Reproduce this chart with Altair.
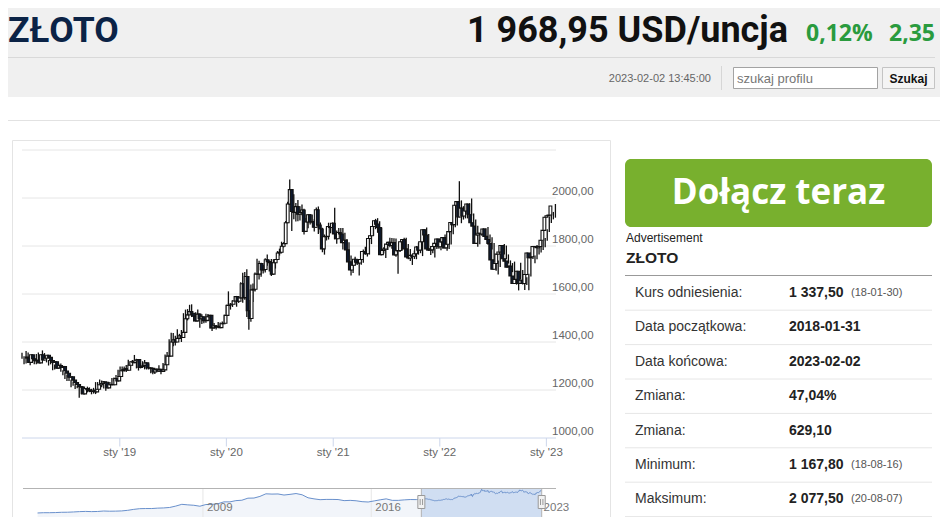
import altair as alt
import pandas as pd

W, H = 932, 509

# ---------------- weekly candles (2018-01-31 .. 2023-02-02) ----------------
close = [
    1333, 1315, 1347, 1330, 1322, 1324, 1313, 1347, 1325, 1332, 1345, 1336, 1323, 1315, 1318, 1291,
    1302, 1294, 1298, 1279, 1270, 1253, 1255, 1241, 1231, 1223, 1214, 1212, 1184, 1206, 1201, 1196,
    1194, 1199, 1192, 1203, 1222, 1227, 1234, 1232, 1209, 1222, 1223, 1222, 1248, 1238, 1256, 1280,
    1285, 1289, 1282, 1303, 1318, 1314, 1322, 1327, 1294, 1298, 1302, 1313, 1292, 1292, 1290, 1275,
    1286, 1279, 1286, 1277, 1284, 1305, 1341, 1341, 1400, 1409, 1400, 1415, 1426, 1419, 1440, 1497,
    1513, 1527, 1520, 1507, 1488, 1516, 1497, 1505, 1489, 1490, 1505, 1511, 1459, 1468, 1462, 1465,
    1460, 1476, 1478, 1511,
    1552, 1557, 1557, 1571, 1589, 1570, 1584, 1643, 1585, 1673, 1530, 1498, 1617, 1620, 1683, 1683,
    1727, 1700, 1702, 1743, 1735, 1730, 1683, 1730, 1744, 1771, 1774, 1799, 1810, 1897, 1975, 2035,
    1944, 1940, 1964, 1933, 1940, 1950, 1861, 1900, 1930, 1900, 1902, 1878, 1951, 1887, 1871, 1788,
    1839, 1840, 1881, 1877,
    1895, 1850, 1830, 1856, 1850, 1814, 1824, 1784, 1734, 1700, 1720, 1745, 1733, 1729, 1744, 1777,
    1777, 1768, 1831, 1843, 1881, 1905, 1891, 1877, 1764, 1781, 1787, 1808, 1815, 1802, 1814, 1763,
    1780, 1781, 1818, 1827, 1788, 1754, 1750, 1761, 1757, 1768, 1796, 1783, 1818, 1868, 1846, 1788,
    1783, 1784, 1798, 1811, 1829,
    1797, 1817, 1835, 1792, 1807, 1860, 1898, 1889, 1970, 1985, 1921, 1958, 1925, 1946, 1975, 1932,
    1897, 1883, 1811, 1846, 1853, 1850, 1871, 1840, 1827, 1811, 1742, 1703, 1727, 1766, 1775, 1802,
    1747, 1737, 1712, 1716, 1675, 1644, 1661, 1695, 1644, 1657, 1644, 1681, 1771, 1751, 1755, 1798,
    1797, 1793, 1798, 1824,
    1865, 1920, 1926, 1929, 1966.6,
]
high = [
    1355, 1341, 1362, 1356, 1336, 1341, 1331, 1350, 1356, 1347, 1365, 1354, 1337, 1325, 1327, 1320,
    1306, 1308, 1309, 1310, 1282, 1274, 1265, 1262, 1243, 1235, 1227, 1219, 1213, 1214, 1215, 1206,
    1214, 1211, 1205, 1209, 1233, 1233, 1244, 1240, 1237, 1227, 1229, 1233, 1250, 1252, 1263, 1284,
    1298, 1298, 1298, 1304, 1326, 1320, 1325, 1346, 1330, 1300, 1311, 1320, 1325, 1301, 1310, 1295,
    1288, 1290, 1290, 1303, 1287, 1312, 1348, 1358, 1411, 1439, 1437, 1426, 1453, 1434, 1450, 1520,
    1535, 1537, 1555, 1557, 1510, 1524, 1535, 1519, 1516, 1500, 1518, 1517, 1512, 1475, 1479, 1470,
    1483, 1481, 1485, 1514,
    1556, 1611, 1562, 1574, 1591, 1592, 1585, 1649, 1689, 1692, 1703, 1575, 1640, 1644, 1690, 1747,
    1739, 1730, 1722, 1749, 1765, 1740, 1746, 1745, 1745, 1779, 1789, 1818, 1816, 1904, 1984, 2077,
    2037, 2016, 1979, 1992, 1966, 1973, 1955, 1917, 1932, 1933, 1931, 1911, 1960, 1965, 1898, 1876,
    1848, 1875, 1897, 1886,
    1898, 1959, 1865, 1875, 1875, 1875, 1855, 1829, 1816, 1760, 1740, 1755, 1745, 1734, 1758, 1785,
    1797, 1790, 1843, 1845, 1890, 1913, 1916, 1903, 1877, 1795, 1795, 1818, 1834, 1833, 1832, 1831,
    1782, 1795, 1823, 1834, 1834, 1808, 1787, 1765, 1781, 1800, 1814, 1810, 1818, 1870, 1877, 1850,
    1800, 1793, 1815, 1815, 1831,
    1831, 1830, 1848, 1853, 1811, 1865, 1902, 1976, 1975, 2070, 1990, 1966, 1962, 1950, 1978, 1998,
    1935, 1910, 1884, 1849, 1870, 1874, 1874, 1879, 1848, 1836, 1812, 1746, 1740, 1768, 1788, 1808,
    1802, 1765, 1740, 1729, 1735, 1688, 1675, 1730, 1700, 1668, 1670, 1684, 1774, 1786, 1760, 1804,
    1800, 1824, 1823, 1833,
    1870, 1923, 1937, 1942, 1975,
]
low = [
    1330, 1307, 1310, 1322, 1303, 1312, 1307, 1307, 1321, 1323, 1325, 1333, 1315, 1302, 1307, 1282,
    1285, 1290, 1290, 1276, 1261, 1246, 1238, 1237, 1211, 1218, 1204, 1207, 1168, 1182, 1196, 1194,
    1190, 1191, 1182, 1185, 1183, 1219, 1220, 1211, 1206, 1197, 1218, 1213, 1220, 1236, 1235, 1254,
    1276, 1280, 1277, 1275, 1298, 1303, 1302, 1320, 1290, 1281, 1290, 1298, 1286, 1285, 1285, 1270,
    1266, 1267, 1275, 1275, 1266, 1280, 1303, 1325, 1340, 1385, 1382, 1385, 1405, 1412, 1400, 1437,
    1480, 1490, 1516, 1504, 1485, 1485, 1485, 1459, 1475, 1478, 1480, 1486, 1456, 1446, 1455, 1452,
    1459, 1460, 1471, 1476,
    1510, 1548, 1535, 1546, 1563, 1547, 1563, 1580, 1564, 1576, 1504, 1451, 1484, 1567, 1610, 1680,
    1660, 1672, 1685, 1690, 1718, 1694, 1675, 1681, 1706, 1742, 1760, 1770, 1794, 1810, 1895, 1972,
    1863, 1911, 1902, 1903, 1906, 1928, 1848, 1861, 1874, 1890, 1894, 1860, 1875, 1850, 1855, 1774,
    1764, 1823, 1827, 1853,
    1869, 1828, 1809, 1830, 1831, 1785, 1808, 1762, 1717, 1677, 1687, 1719, 1721, 1677, 1722, 1730,
    1764, 1756, 1765, 1808, 1842, 1870, 1855, 1866, 1761, 1769, 1750, 1783, 1795, 1789, 1793, 1755,
    1684, 1775, 1780, 1810, 1782, 1745, 1737, 1721, 1746, 1745, 1764, 1770, 1758, 1816, 1843, 1780,
    1762, 1770, 1752, 1788, 1789,
    1782, 1790, 1808, 1780, 1788, 1806, 1849, 1878, 1885, 1950, 1895, 1910, 1915, 1915, 1938, 1927,
    1872, 1850, 1797, 1807, 1843, 1840, 1825, 1805, 1816, 1785, 1732, 1697, 1681, 1712, 1754, 1765,
    1745, 1727, 1688, 1691, 1654, 1639, 1615, 1660, 1640, 1617, 1638, 1616, 1673, 1746, 1728, 1745,
    1765, 1773, 1783, 1795,
    1822, 1858, 1896, 1911, 1918,
]
reference_close = 1337.5
opens = [reference_close] + close[:-1]
week_dates = pd.date_range("2018-01-31", periods=len(close), freq="7D").strftime("%Y-%m-%d").tolist()
candles = pd.DataFrame({"date": week_dates, "open": opens, "high": high, "low": low, "close": close})

# ---------------- navigator history (quarterly 2002-2017, then weekly) ----------------
nav_quarterly = [
    295, 315, 315, 325, 345, 350, 370, 395, 410, 395, 405, 440, 425, 430, 445, 490,
    560, 610, 620, 620, 650, 665, 700, 800, 930, 890, 860, 790, 915, 925, 970, 1110,
    1110, 1200, 1230, 1380, 1390, 1510, 1700, 1680, 1690, 1610, 1660, 1720, 1630, 1410, 1330, 1270,
    1290, 1290, 1280, 1200, 1220, 1190, 1125, 1100, 1180, 1260, 1330, 1220, 1220, 1255, 1280, 1275,
]
nav_q_dates = (pd.date_range("2002-01-01", periods=len(nav_quarterly), freq="QS")
               + pd.Timedelta(days=45)).strftime("%Y-%m-%d").tolist()
navigator = pd.DataFrame({"date": nav_q_dates + week_dates, "v": nav_quarterly + close})
selection = pd.DataFrame({"s": ["2018-01-31"], "e": ["2023-02-02"]})
handles = pd.DataFrame({"d": ["2018-01-31", "2023-02-02"]})

# ---------------- axes ----------------
grid_vals = [1200, 1400, 1600, 1800, 2000, 2200]
y_tick_vals = [1000, 1200, 1400, 1600, 1800, 2000]
y_tick_labels = ["1000,00", "1200,00", "1400,00", "1600,00", "1800,00", "2000,00"]
x_tick_dates = ["2019-01-01", "2020-01-01", "2021-01-01", "2022-01-01", "2023-01-01"]
x_tick_labels = ["sty '19", "sty '20", "sty '21", "sty '22", "sty '23"]
nav_tick_dates = ["2009-01-01", "2016-01-01", "2023-01-01"]
nav_tick_labels = ["2009", "2016", "2023"]

# ---------------- texts ----------------
title_text = "ZŁOTO"
price_text = "1 968,95 USD/uncja"
pct_text = "0,12%"
chg_text = "2,35"
stamp_text = "2023-02-02 13:45:00"
search_placeholder = "szukaj profilu"
search_button = "Szukaj"
cta_text = "Dołącz teraz"
ad_text = "Advertisement"
table_labels = ["Kurs odniesienia:", "Data początkowa:", "Data końcowa:", "Zmiana:", "Zmiana:", "Minimum:", "Maksimum:"]
table_values = ["1 337,50", "2018-01-31", "2023-02-02", "47,04%", "629,10", "1 167,80", "2 077,50"]
table_dates = ["(18-01-30)", "", "", "", "", "(18-08-16)", "(20-08-07)"]
table = pd.DataFrame({"i": list(range(len(table_labels))), "label": table_labels,
                      "value": table_values, "date": table_dates})
separators = pd.DataFrame({"i": [k + 0.5 for k in range(len(table_labels))]})

one = pd.DataFrame({"k": [0]})


def box(x1, x2, y1, y2, **kw):
    return alt.Chart(one).mark_rect(**kw).encode(
        x=alt.value(x1), x2=alt.value(x2), y=alt.value(y1), y2=alt.value(y2))


def hline(x1, x2, y, color, w=1):
    return alt.Chart(one).mark_rule(color=color, strokeWidth=w).encode(
        x=alt.value(x1), x2=alt.value(x2), y=alt.value(y))


def vline(x, y1, y2, color, w=1):
    return alt.Chart(one).mark_rule(color=color, strokeWidth=w).encode(
        x=alt.value(x), y=alt.value(y1), y2=alt.value(y2))


def label(s, x, y, **kw):
    return alt.Chart(one).mark_text(text=s, **kw).encode(x=alt.value(x), y=alt.value(y))


def dt(y, m, d):
    return alt.DateTime(year=y, month=m, date=d, utc=True)


SANS = "Liberation Sans"
HEAD = "Open Sans"
BIG = "Roboto"

mx = alt.Scale(domain=[dt(2018, 1, 31), dt(2023, 2, 3)], range=[14, 548], nice=False)
my = alt.Scale(domain=[1000, 2200], range=[430, 142], nice=False, zero=False)
nx = alt.Scale(domain=[dt(2001, 7, 9), dt(2023, 9, 7)], range=[15, 548], nice=False)
ny = alt.Scale(domain=[0, 2200], range=[509, 479], nice=False, zero=False)
ry = alt.Scale(domain=[0, 6], range=[285, 491.4], nice=False, zero=False)

layers = []

# header
layers.append(box(0, W, 0, 89, color="#f0f0f0"))
layers.append(label(title_text, 0, 33.7, font=BIG, fontSize=35.5, fontWeight="bold",
                    color="#0b2346", align="left", baseline="alphabetic"))
layers.append(hline(0, 927, 49.5, "#d9d9d9"))
layers.append(label(price_text, 780, 33.7, font=BIG, fontSize=36, fontWeight="bold",
                    color="#111111", align="right", baseline="alphabetic"))
layers.append(label(pct_text, 798, 32.7, font=HEAD, fontSize=23, fontWeight="bold",
                    color="#2a9b3e", align="left", baseline="alphabetic"))
layers.append(label(chg_text, 881, 32.7, font=HEAD, fontSize=23, fontWeight="bold",
                    color="#2a9b3e", align="left", baseline="alphabetic"))
layers.append(label(stamp_text, 703, 71, font=SANS, fontSize=11, color="#666666",
                    align="right", baseline="middle"))
layers.append(vline(713.5, 58, 82, "#d6d6d6"))
layers.append(box(725.5, 869.5, 59.5, 80.5, fill="#ffffff", stroke="#a3a3a3", strokeWidth=1))
layers.append(label(search_placeholder, 729, 70.5, font=SANS, fontSize=13, color="#767676",
                    align="left", baseline="middle"))
layers.append(box(874.5, 926.5, 59.5, 80.5, fill="#f4f4f4", stroke="#c4c4c4", strokeWidth=1))
layers.append(label(search_button, 900.5, 70.5, font=SANS, fontSize=12, fontWeight="bold",
                    color="#111111", align="center", baseline="middle"))

# white panel and chart box
layers.append(hline(0, W, 112.5, "#e2e2e2"))
layers.append(box(4.5, 602.5, 132.5, H + 5, fill="#ffffff", stroke="#e4e4e4", strokeWidth=1))

# main chart grid + axes
layers.append(alt.Chart(pd.DataFrame({"v": grid_vals})).mark_rule(color="#e6e6e6").encode(
    x=alt.value(14), x2=alt.value(548), y=alt.Y("v:Q", scale=my, axis=None)))
layers.append(alt.Chart(pd.DataFrame({"v": [1000]})).mark_rule(color="#ccd6eb").encode(
    x=alt.value(14), x2=alt.value(548), y=alt.Y("v:Q", scale=my, axis=None)))
xt = pd.DataFrame({"d": x_tick_dates, "t": x_tick_labels})
layers.append(alt.Chart(xt).mark_rule(color="#ccd6eb").encode(
    x=alt.X("d:T", scale=mx, axis=None), y=alt.value(430), y2=alt.value(438.5)))
layers.append(alt.Chart(xt).mark_text(font=SANS, fontSize=11.5, color="#666666",
                                      align="center", baseline="middle").encode(
    x=alt.X("d:T", scale=mx, axis=None), y=alt.value(445), text="t:N"))
yt = pd.DataFrame({"v": y_tick_vals, "t": y_tick_labels})
layers.append(alt.Chart(yt).mark_text(font=SANS, fontSize=11.5, color="#666666",
                                      align="left", baseline="middle", dy=-6).encode(
    x=alt.value(544), y=alt.Y("v:Q", scale=my, axis=None), text="t:N"))

# candles
layers.append(alt.Chart(candles).mark_rule(color="#111111", strokeWidth=1.3).encode(
    x=alt.X("date:T", scale=mx, axis=None),
    y=alt.Y("low:Q", scale=my, axis=None), y2="high:Q"))
layers.append(alt.Chart(candles).mark_bar(size=2.8, stroke="#111111", strokeWidth=1.1).encode(
    x=alt.X("date:T", scale=mx, axis=None),
    y=alt.Y("open:Q", scale=my, axis=None), y2="close:Q",
    fill=alt.condition("datum.close >= datum.open", alt.value("#ffffff"), alt.value("#0e1a30"))))

# navigator
layers.append(alt.Chart(navigator).mark_area(color="#f2f5fa").encode(
    x=alt.X("date:T", scale=nx, axis=None),
    y=alt.Y("v:Q", scale=ny, axis=None), y2=alt.datum(0)))
nt = pd.DataFrame({"d": nav_tick_dates, "t": nav_tick_labels})
layers.append(alt.Chart(nt).mark_rule(color="#e6e6e6").encode(
    x=alt.X("d:T", scale=nx, axis=None), y=alt.value(480), y2=alt.value(H)))
layers.append(alt.Chart(selection).mark_rect(color="#d0def2").encode(
    x=alt.X("s:T", scale=nx, axis=None), x2="e:T", y=alt.value(480), y2=alt.value(H)))
layers.append(alt.Chart(navigator).mark_line(color="#6990cc", strokeWidth=1).encode(
    x=alt.X("date:T", scale=nx, axis=None), y=alt.Y("v:Q", scale=ny, axis=None)))
layers.append(alt.Chart(nt).mark_text(font=SANS, fontSize=11.5, color="#777777",
                                      align="left", baseline="middle", dx=4).encode(
    x=alt.X("d:T", scale=nx, axis=None), y=alt.value(500), text="t:N"))
layers.append(hline(15, 548, 480.5, "#b3b3b3"))
layers.append(alt.Chart(handles).mark_rule(color="#b3b3b3").encode(
    x=alt.X("d:T", scale=nx, axis=None), y=alt.value(480), y2=alt.value(H)))
layers.append(alt.Chart(handles).mark_rect(fill="#f2f2f2", stroke="#999999", strokeWidth=1,
                                           xOffset=-3.5, x2Offset=3.5).encode(
    x=alt.X("d:T", scale=nx, axis=None), x2="d:T", y=alt.value(487.5), y2=alt.value(500.5)))
for off in (-1.2, 1.2):
    layers.append(alt.Chart(handles).mark_rule(color="#999999", xOffset=off).encode(
        x=alt.X("d:T", scale=nx, axis=None), y=alt.value(491), y2=alt.value(497)))

# right panel
layers.append(box(617, 924, 151, 219, color="#78b02e", cornerRadius=6))
layers.append(label(cta_text, 770.5, 196, font=HEAD, fontSize=35, fontWeight="bold",
                    color="#ffffff", align="center", baseline="alphabetic"))
layers.append(label(ad_text, 618, 230, font=SANS, fontSize=12, color="#222222",
                    align="left", baseline="middle"))
layers.append(label(title_text, 618, 250, font=SANS, fontSize=15.5, fontWeight="bold",
                    color="#222222", align="left", baseline="middle"))
layers.append(hline(617, 924, 267.5, "#999999"))
layers.append(alt.Chart(separators).mark_rule(color="#e6e6e6").encode(
    x=alt.value(617), x2=alt.value(924), y=alt.Y("i:Q", scale=ry, axis=None)))
layers.append(alt.Chart(table).mark_text(font=SANS, fontSize=14, color="#333333",
                                         align="left", baseline="middle").encode(
    x=alt.value(627), y=alt.Y("i:Q", scale=ry, axis=None), text="label:N"))
layers.append(alt.Chart(table).mark_text(font=SANS, fontSize=14, fontWeight="bold", color="#222222",
                                         align="left", baseline="middle").encode(
    x=alt.value(781), y=alt.Y("i:Q", scale=ry, axis=None), text="value:N"))
layers.append(alt.Chart(table).mark_text(font=SANS, fontSize=11, color="#555555",
                                         align="left", baseline="middle").encode(
    x=alt.value(843), y=alt.Y("i:Q", scale=ry, axis=None), text="date:N"))

chart = alt.layer(*layers).resolve_scale(x="independent", y="independent").properties(
    width=W, height=H, padding=0, background="#ffffff",
    autosize=alt.AutoSizeParams(type="none"),
).configure_view(strokeWidth=0)

chart.save("out.html", embed_options={"renderer": "svg", "actions": False})
